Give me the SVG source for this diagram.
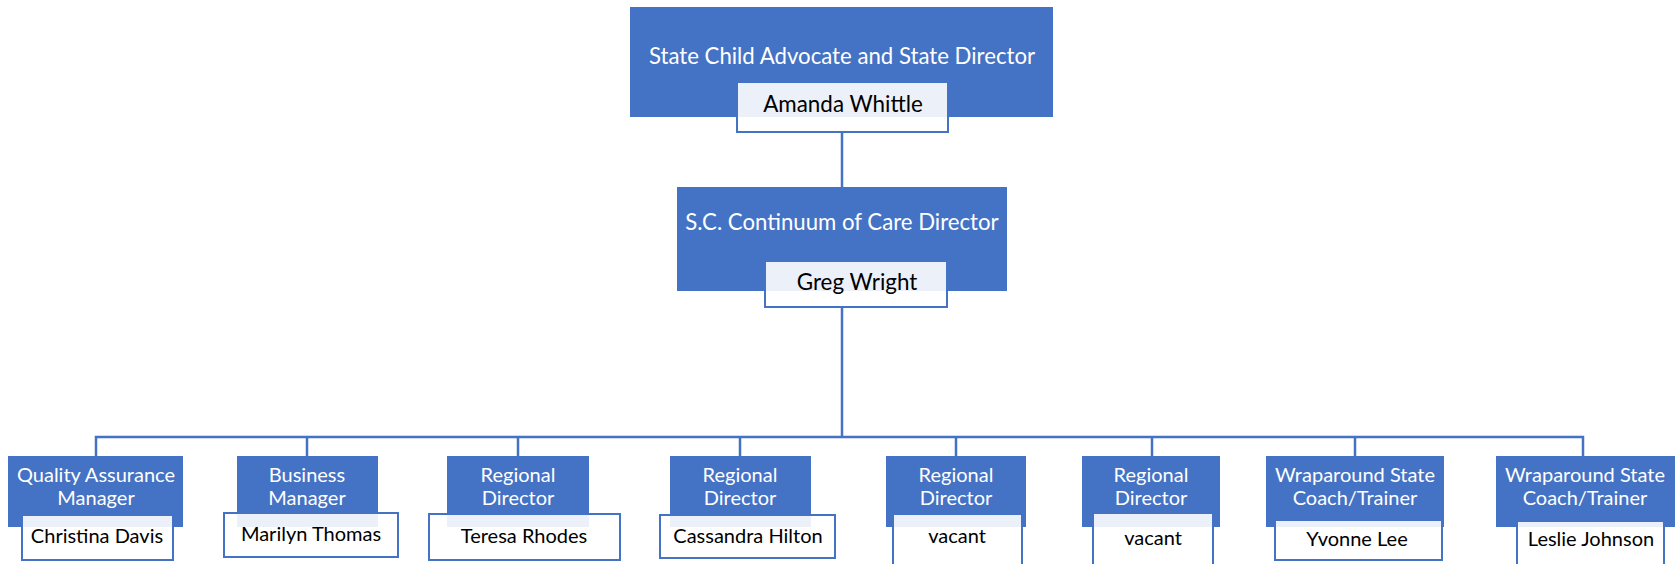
<svg xmlns="http://www.w3.org/2000/svg" width="1677" height="564" viewBox="0 0 1677 564">
<style>
.box{fill:#4472C4;}
.nm{fill:#FFFFFF;fill-opacity:0.9;stroke:#4472C4;stroke-width:2;}
.t{font-family:Lato,"Liberation Sans",sans-serif;font-size:20px;fill:#FFFFFF;text-anchor:middle;}
.n{font-family:Lato,"Liberation Sans",sans-serif;font-size:20px;fill:#000000;text-anchor:middle;}
.tl{font-size:22.2px;}
.nl{font-size:22.4px;}
.c{fill:none;stroke:#4472C4;stroke-width:2.5;}
</style>
<rect width="1677" height="564" fill="#FFFFFF"/>
<g id="connectors">
<path class="c" d="M842,132 V187"/>
<path class="c" d="M842,307 V437"/>
<path class="c" d="M96,456 V437 H1583 V456"/>
<path class="c" d="M307,437 V456 M518,437 V456 M740,437 V456 M956,437 V456 M1152,437 V456 M1355,437 V456"/>
</g>
<g id="n-state-child-advocate">
<rect class="box" x="630" y="7" width="423" height="110"/>
<rect class="nm" x="737" y="82" width="211" height="50"/>
<text class="t tl" x="842" y="64">State Child Advocate and State Director</text>
<text class="n nl" x="843" y="112">Amanda Whittle</text>
</g>
<g id="n-continuum-director">
<rect class="box" x="677" y="187" width="330" height="104"/>
<rect class="nm" x="765" y="261" width="182" height="46"/>
<text class="t tl" x="842" y="230">S.C. Continuum of Care Director</text>
<text class="n nl" x="857" y="290">Greg Wright</text>
</g>
<g id="n-qa-manager">
<rect class="box" x="8" y="456" width="175" height="71"/>
<rect class="nm" x="22" y="515" width="151" height="45"/>
<text class="t" x="96" y="482">Quality Assurance</text>
<text class="t" x="96" y="505">Manager</text>
<text class="n" x="97" y="543">Christina Davis</text>
</g>
<g id="n-business-manager">
<rect class="box" x="237" y="456" width="141" height="71"/>
<rect class="nm" x="224" y="513" width="174" height="44"/>
<text class="t" x="307" y="482">Business</text>
<text class="t" x="307" y="505">Manager</text>
<text class="n" x="311" y="541">Marilyn Thomas</text>
</g>
<g id="n-regional-1">
<rect class="box" x="447" y="456" width="142" height="71"/>
<rect class="nm" x="429" y="514" width="191" height="46"/>
<text class="t" x="518" y="482">Regional</text>
<text class="t" x="518" y="505">Director</text>
<text class="n" x="524" y="543">Teresa Rhodes</text>
</g>
<g id="n-regional-2">
<rect class="box" x="670" y="456" width="141" height="71"/>
<rect class="nm" x="660" y="515" width="175" height="43"/>
<text class="t" x="740" y="482">Regional</text>
<text class="t" x="740" y="505">Director</text>
<text class="n" x="748" y="543">Cassandra Hilton</text>
</g>
<g id="n-regional-3">
<rect class="box" x="886" y="456" width="140" height="71"/>
<rect class="nm" x="893" y="514" width="129" height="52"/>
<text class="t" x="956" y="482">Regional</text>
<text class="t" x="956" y="505">Director</text>
<text class="n" x="957" y="543">vacant</text>
</g>
<g id="n-regional-4">
<rect class="box" x="1082" y="456" width="138" height="71"/>
<rect class="nm" x="1093" y="513" width="120" height="53"/>
<text class="t" x="1151" y="482">Regional</text>
<text class="t" x="1151" y="505">Director</text>
<text class="n" x="1153" y="545">vacant</text>
</g>
<g id="n-wraparound-1">
<rect class="box" x="1266" y="456" width="178" height="71"/>
<rect class="nm" x="1275" y="520" width="167" height="40"/>
<text class="t" x="1355" y="482">Wraparound State</text>
<text class="t" x="1355" y="505">Coach/Trainer</text>
<text class="n" x="1357" y="546">Yvonne Lee</text>
</g>
<g id="n-wraparound-2">
<rect class="box" x="1496" y="456" width="179" height="71"/>
<rect class="nm" x="1517" y="521" width="147" height="45"/>
<text class="t" x="1585" y="482">Wraparound State</text>
<text class="t" x="1585" y="505">Coach/Trainer</text>
<text class="n" x="1591" y="546">Leslie Johnson</text>
</g>
</svg>
